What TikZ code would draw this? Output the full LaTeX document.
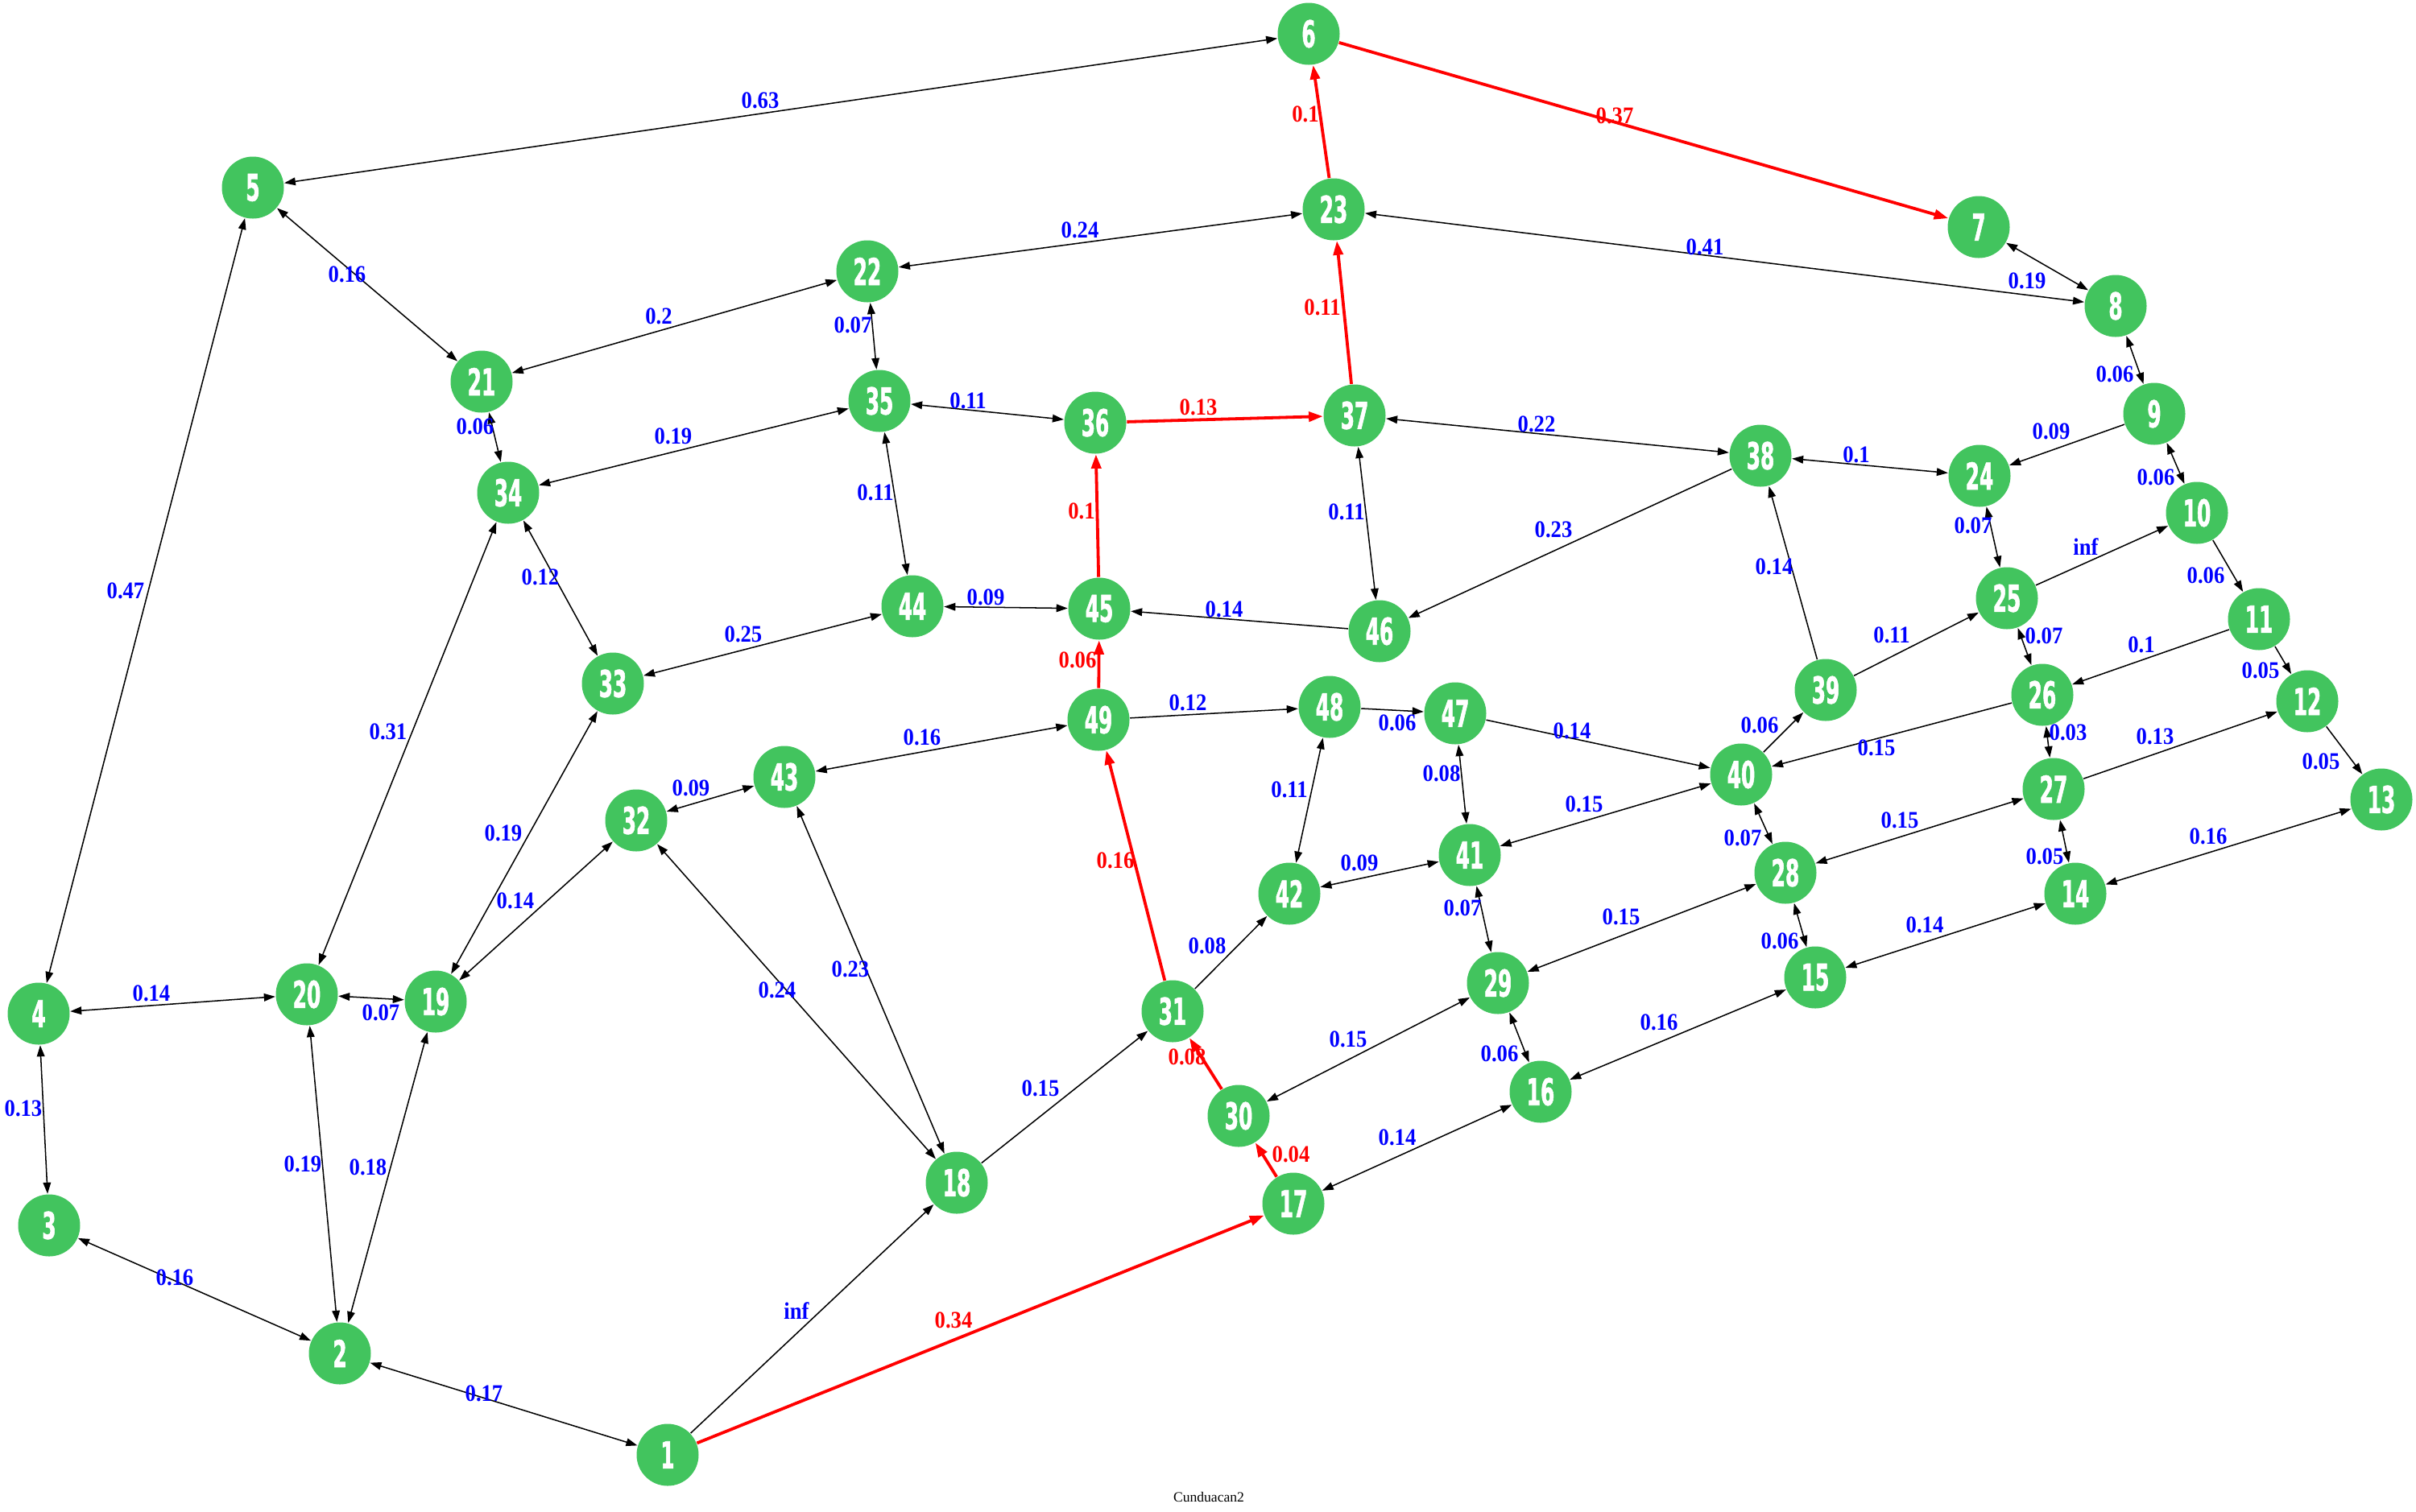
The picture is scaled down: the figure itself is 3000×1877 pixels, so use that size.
\documentclass[tikz,border=0pt]{standalone}
\usepackage{fontspec}
\setmainfont{Liberation Serif}
\newfontfamily\nodefont{DejaVu Sans Condensed}[FakeStretch=0.6,FakeBold=1.2]
\newfontfamily\lblfont{Liberation Serif}[FakeStretch=0.9]
\usetikzlibrary{arrows.meta}
\definecolor{ngreen}{RGB}{66,196,94}
\tikzset{
  vtx/.style={circle, fill=ngreen, draw=none, minimum size=19.25pt, inner sep=0pt, text=white,
    font=\nodefont\bfseries\fontsize{11.5}{11.5}\selectfont},
  lb/.style={text=blue, inner sep=0pt, font=\lblfont\bfseries\fontsize{7.4}{7.4}\selectfont},
  lr/.style={lb, text=red},
  bi/.style={draw=black, line width=0.38pt,
    {Triangle[length=3.5pt,width=2.4pt]}-{Triangle[length=3.5pt,width=2.4pt]}},
  uni/.style={draw=black, line width=0.38pt, -{Triangle[length=3.5pt,width=2.4pt]}},
  hot/.style={draw=red, line width=0.95pt, -{Triangle[length=4.4pt,width=3pt]}},
}
\begin{document}
\begin{tikzpicture}[x=0.25pt, y=-0.25pt]
\useasboundingbox (0,0) rectangle (3000,1877);
% nodes
\node[vtx] (n1) at (829,1807) {1};
\node[vtx] (n2) at (422,1681) {2};
\node[vtx] (n3) at (61,1522) {3};
\node[vtx] (n4) at (48,1259) {4};
\node[vtx] (n5) at (314,233) {5};
\node[vtx] (n6) at (1625,42) {6};
\node[vtx] (n7) at (2457,282) {7};
\node[vtx] (n8) at (2627,380) {8};
\node[vtx] (n9) at (2675,514) {9};
\node[vtx] (n10) at (2728,637) {10};
\node[vtx] (n11) at (2805,769) {11};
\node[vtx] (n12) at (2865,871) {12};
\node[vtx] (n13) at (2957,993) {13};
\node[vtx] (n14) at (2577,1110) {14};
\node[vtx] (n15) at (2254,1214) {15};
\node[vtx] (n16) at (1913,1356) {16};
\node[vtx] (n17) at (1606,1495) {17};
\node[vtx] (n18) at (1188,1469) {18};
\node[vtx] (n19) at (541,1244) {19};
\node[vtx] (n20) at (381,1235) {20};
\node[vtx] (n21) at (598,474) {21};
\node[vtx] (n22) at (1077,337) {22};
\node[vtx] (n23) at (1656,260) {23};
\node[vtx] (n24) at (2458,591) {24};
\node[vtx] (n25) at (2492,743) {25};
\node[vtx] (n26) at (2536,863) {26};
\node[vtx] (n27) at (2550,980) {27};
\node[vtx] (n28) at (2217,1084) {28};
\node[vtx] (n29) at (1860,1221) {29};
\node[vtx] (n30) at (1538,1386) {30};
\node[vtx] (n31) at (1456,1256) {31};
\node[vtx] (n32) at (790,1019) {32};
\node[vtx] (n33) at (761,849) {33};
\node[vtx] (n34) at (631,612) {34};
\node[vtx] (n35) at (1092,498) {35};
\node[vtx] (n36) at (1360,525) {36};
\node[vtx] (n37) at (1682,516) {37};
\node[vtx] (n38) at (2186,566) {38};
\node[vtx] (n39) at (2267,857) {39};
\node[vtx] (n40) at (2162,962) {40};
\node[vtx] (n41) at (1825,1062) {41};
\node[vtx] (n42) at (1601,1110) {42};
\node[vtx] (n43) at (974,965) {43};
\node[vtx] (n44) at (1133,753) {44};
\node[vtx] (n45) at (1365,756) {45};
\node[vtx] (n46) at (1713,784) {46};
\node[vtx] (n47) at (1807,886) {47};
\node[vtx] (n48) at (1651,878) {48};
\node[vtx] (n49) at (1364,894) {49};
% two-way edges
\draw[bi] (n6) -- (n5);   \node[lb] (l1) at (944,125) {0.63};
\draw[bi] (n5) -- (n21);  \node[lb] (l2) at (431,341) {0.16};
\draw[bi] (n5) -- (n4);   \node[lb] (l3) at (156,734) {0.47};
\draw[bi] (n21) -- (n22); \node[lb] (l4) at (818,393) {0.2};
\draw[bi] (n21) -- (n34); \node[lb] (l5) at (590,530) {0.06};
\draw[bi] (n34) -- (n35); \node[lb] (l6) at (836,542) {0.19};
\draw[bi] (n22) -- (n23); \node[lb] (l7) at (1341,286) {0.24};
\draw[bi] (n22) -- (n35); \node[lb] (l8) at (1059,404) {0.07};
\draw[bi] (n35) -- (n36); \node[lb] (l9) at (1202,498) {0.11};
\draw[bi] (n23) -- (n8);  \node[lb] (l10) at (2117,307) {0.41};
\draw[bi] (n7) -- (n8);   \node[lb] (l11) at (2517,349) {0.19};
\draw[bi] (n8) -- (n9);   \node[lb] (l12) at (2626,465) {0.06};
\draw[bi] (n38) -- (n24); \node[lb] (l13) at (2305,565) {0.1};
\draw[bi] (n37) -- (n38); \node[lb] (l14) at (1908,527) {0.22};
\draw[bi] (n9) -- (n10);  \node[lb] (l15) at (2677,593) {0.06};
\draw[bi] (n24) -- (n25); \node[lb] (l16) at (2450,653) {0.07};
\draw[bi] (n25) -- (n26); \node[lb] (l17) at (2538,790) {0.07};
\draw[bi] (n26) -- (n27); \node[lb] (l18) at (2568,910) {0.03};
\draw[bi] (n27) -- (n14); \node[lb] (l19) at (2539,1064) {0.05};
\draw[bi] (n27) -- (n28); \node[lb] (l20) at (2359,1019) {0.15};
\draw[bi] (n14) -- (n13); \node[lb] (l21) at (2742,1039) {0.16};
\draw[bi] (n14) -- (n15); \node[lb] (l22) at (2390,1149) {0.14};
\draw[bi] (n28) -- (n15); \node[lb] (l23) at (2210,1169) {0.06};
\draw[bi] (n28) -- (n29); \node[lb] (l24) at (2013,1139) {0.15};
\draw[bi] (n40) -- (n28); \node[lb] (l25) at (2164,1041) {0.07};
\draw[bi] (n40) -- (n41); \node[lb] (l26) at (1967,999) {0.15};
\draw[bi] (n47) -- (n41); \node[lb] (l27) at (1790,961) {0.08};
\draw[bi] (n41) -- (n29); \node[lb] (l28) at (1816,1128) {0.07};
\draw[bi] (n29) -- (n16); \node[lb] (l29) at (1862,1309) {0.06};
\draw[bi] (n42) -- (n41); \node[lb] (l30) at (1688,1072) {0.09};
\draw[bi] (n48) -- (n42); \node[lb] (l31) at (1601,981) {0.11};
\draw[bi] (n43) -- (n49); \node[lb] (l32) at (1145,916) {0.16};
\draw[bi] (n37) -- (n46); \node[lb] (l33) at (1672,636) {0.11};
\draw[bi] (n44) -- (n45); \node[lb] (l34) at (1224,742) {0.09};
\draw[bi] (n35) -- (n44); \node[lb] (l35) at (1087,612) {0.11};
\draw[bi] (n44) -- (n33); \node[lb] (l36) at (923,788) {0.25};
\draw[bi] (n34) -- (n33); \node[lb] (l37) at (671,717) {0.12};
\draw[bi] (n33) -- (n19); \node[lb] (l38) at (625,1035) {0.19};
\draw[bi] (n32) -- (n19); \node[lb] (l39) at (640,1119) {0.14};
\draw[bi] (n32) -- (n43); \node[lb] (l40) at (858,979) {0.09};
\draw[bi] (n34) -- (n20); \node[lb] (l41) at (482,909) {0.31};
\draw[bi] (n20) -- (n19); \node[lb] (l42) at (473,1258) {0.07};
\draw[bi] (n4) -- (n20);  \node[lb] (l43) at (188,1234) {0.14};
\draw[bi] (n4) -- (n3);   \node[lb] (l44) at (29,1377) {0.13};
\draw[bi] (n3) -- (n2);   \node[lb] (l45) at (217,1587) {0.16};
\draw[bi] (n2) -- (n20);  \node[lb] (l46) at (376,1446) {0.19};
\draw[bi] (n2) -- (n19);  \node[lb] (l47) at (457,1450) {0.18};
\draw[bi] (n2) -- (n1);   \node[lb] (l48) at (601,1731) {0.17};
\draw[bi] (n43) -- (n18); \node[lb] (l49) at (1056,1204) {0.23};
\draw[bi] (n32) -- (n18); \node[lb] (l50) at (965,1230) {0.24};
\draw[bi] (n30) -- (n29); \node[lb] (l51) at (1674,1291) {0.15};
\draw[bi] (n16) -- (n17); \node[lb] (l52) at (1735,1413) {0.14};
\draw[bi] (n16) -- (n15); \node[lb] (l53) at (2060,1270) {0.16};
% one-way edges
\draw[uni] (n9) -- (n24);  \node[lb] (l54) at (2547,536) {0.09};
\draw[uni] (n38) -- (n46); \node[lb] (l55) at (1929,658) {0.23};
\draw[uni] (n39) -- (n38); \node[lb] (l56) at (2203,704) {0.14};
\draw[uni] (n25) -- (n10); \node[lb] (l57) at (2590,679) {inf};
\draw[uni] (n10) -- (n11); \node[lb] (l58) at (2739,715) {0.06};
\draw[uni] (n11) -- (n12); \node[lb] (l59) at (2807,833) {0.05};
\draw[uni] (n12) -- (n13); \node[lb] (l60) at (2882,946) {0.05};
\draw[uni] (n11) -- (n26); \node[lb] (l61) at (2659,801) {0.1};
\draw[uni] (n26) -- (n40); \node[lb] (l62) at (2330,929) {0.15};
\draw[uni] (n27) -- (n12); \node[lb] (l63) at (2676,915) {0.13};
\draw[uni] (n39) -- (n25); \node[lb] (l64) at (2349,789) {0.11};
\draw[uni] (n40) -- (n39); \node[lb] (l65) at (2185,901) {0.06};
\draw[uni] (n47) -- (n40); \node[lb] (l66) at (1952,908) {0.14};
\draw[uni] (n48) -- (n47); \node[lb] (l67) at (1735,898) {0.06};
\draw[uni] (n31) -- (n42); \node[lb] (l68) at (1499,1175) {0.08};
\draw[uni] (n49) -- (n48); \node[lb] (l69) at (1475,873) {0.12};
\draw[uni] (n46) -- (n45); \node[lb] (l70) at (1520,757) {0.14};
\draw[uni] (n1) -- (n18);  \node[lb] (l71) at (989,1628) {inf};
\draw[uni] (n18) -- (n31); \node[lb] (l72) at (1292,1352) {0.15};
% red path
\draw[hot] (n1) -- (n17);  \node[lr] (l73) at (1184,1640) {0.34};
\draw[hot] (n17) -- (n30); \node[lr] (l74) at (1603,1434) {0.04};
\draw[hot] (n30) -- (n31); \node[lr] (l75) at (1474,1313) {0.08};
\draw[hot] (n31) -- (n49); \node[lr] (l76) at (1385,1069) {0.16};
\draw[hot] (n49) -- (n45); \node[lr] (l77) at (1338,820) {0.06};
\draw[hot] (n45) -- (n36); \node[lr] (l78) at (1343,635) {0.1};
\draw[hot] (n36) -- (n37); \node[lr] (l79) at (1488,506) {0.13};
\draw[hot] (n37) -- (n23); \node[lr] (l80) at (1642,382) {0.11};
\draw[hot] (n23) -- (n6);  \node[lr] (l81) at (1621,142) {0.1};
\draw[hot] (n6) -- (n7);   \node[lr] (l82) at (2005,144) {0.37};
% caption
\node[inner sep=0pt, font=\fontsize{4.4}{4.4}\selectfont] (cap) at (1501,1859) {Cunduacan2};
\end{tikzpicture}
\end{document}
